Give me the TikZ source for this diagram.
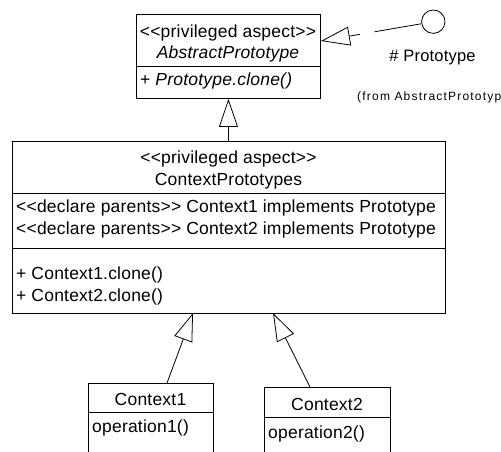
\documentclass[tikz,border=0pt]{standalone}
\usepackage{fontspec}
\setmainfont{Liberation Sans}[Ligatures=TeXOff, LetterSpace=1.2]
\usetikzlibrary{arrows.meta}
\begin{document}
\begin{tikzpicture}[x=1pt,y=-1pt,
  box/.style={draw, line width=0.9pt, inner sep=0pt, anchor=north west},
  txt/.style={inner sep=0pt, anchor=base, font=\fontsize{17.5}{20}\selectfont},
  ltxt/.style={txt, anchor=base west},
  rule/.style={line width=0.9pt},
  gen/.style={line width=0.8pt, -{Triangle[open, length=28pt, width=19pt, line width=0.8pt]}},
  real/.style={line width=0.8pt, dash pattern=on 47.5pt off 15pt on 200pt, -{Triangle[open, length=29pt, width=19pt, line width=0.8pt]}}
]
\useasboundingbox (0,0) rectangle (501,452);

% AbstractPrototype
\node[box, minimum width=184pt, minimum height=84pt] (ap) at (136,14) {};
\draw[rule] (136,66) -- (320,66);
\node[txt] (ap1) at (228,38) {<<privileged aspect>>};
\node[txt] (ap2) at (228,59) {\itshape AbstractPrototype};
\node[ltxt] (ap3) at (140,86) {+ \itshape Prototype.clone()};
\coordinate (aptip) at (321,41);

% interface lollipop
\node[draw, circle, line width=0.8pt, minimum size=23.4pt, inner sep=0pt] (ifc) at (433.3,21.7) {};
\node[txt, font=\fontsize{16.5}{19}\selectfont] (ifl) at (432.5,62) {\# Prototype};
\node[inner sep=0pt, anchor=base west, font=\fontsize{12}{14}\selectfont\addfontfeature{LetterSpace=10}] (ifs) at (357,100) {(from AbstractPrototype};
\draw[real] (ifc) -- (aptip);

% ContextPrototypes
\node[box, minimum width=433pt, minimum height=172pt] (cp) at (12,141) {};
\draw[rule] (12,193) -- (445,193);
\draw[rule] (12,248) -- (445,248);
\node[txt] (cp1) at (228.5,163) {<<privileged aspect>>};
\node[txt] (cp2) at (228.5,185) {ContextPrototypes};
\node[ltxt] (cp3) at (16,212) {<<declare parents>> Context1 implements Prototype};
\node[ltxt] (cp4) at (16,234) {<<declare parents>> Context2 implements Prototype};
\node[ltxt] (cp5) at (16,279) {+ Context1.clone()};
\node[ltxt] (cp6) at (16,301) {+ Context2.clone()};

% generalization to AbstractPrototype
\draw[gen] (cp.north -| ap.south) -- (ap.south);

% Context1
\node[box, minimum width=125pt, minimum height=80pt] (c1) at (88,383) {};
\draw[rule] (88,412) -- (213,412);
\node[txt] (c1t) at (150.5,405) {Context1};
\node[ltxt] (c1o) at (92,432) {operation1()};

% Context2
\node[box, minimum width=126pt, minimum height=80pt] (c2) at (264,387) {};
\draw[rule] (264,417) -- (390,417);
\node[txt] (c2t) at (327,410) {Context2};
\node[ltxt] (c2o) at (268,438) {operation2()};

\coordinate (c1s) at (167,383);
\coordinate (c1e) at (193,313);
\coordinate (c2s) at (310,387);
\coordinate (c2e) at (273,313);
\draw[gen] (c1s) -- (c1e);
\draw[gen] (c2s) -- (c2e);
\end{tikzpicture}
\end{document}
